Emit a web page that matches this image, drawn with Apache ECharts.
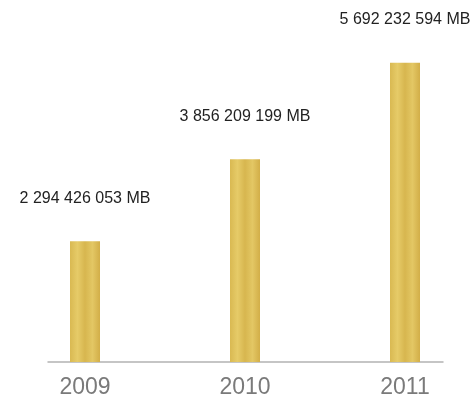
<!DOCTYPE html>
<html>
<head>
<meta charset="utf-8">
<script src="https://cdn.jsdelivr.net/npm/echarts@6/dist/echarts.min.js"></script>
<style>
html,body{margin:0;padding:0;background:#fff;}
#chart{width:473px;height:404px;}
</style>
</head>
<body>
<div id="chart"></div>
<script>
var categories = ['2009', '2010', '2011'];
var values = [2294426053, 3856209199, 5692232594];
var unit = 'MB';

function fmt(v) {
  return String(v).replace(/\B(?=(\d{3})+(?!\d))/g, ' ') + ' ' + unit;
}

var gold = new echarts.graphic.LinearGradient(0, 0, 1, 0, [
  { offset: 0, color: '#d9b952' },
  { offset: 0.25, color: '#e6cb68' },
  { offset: 0.5, color: '#d7b64f' },
  { offset: 0.75, color: '#e3c764' },
  { offset: 1, color: '#d2ae48' }
]);

var chart = echarts.init(document.getElementById('chart'));
chart.setOption({
  animation: false,
  grid: [
    { left: 85, right: 68, top: 46.5, bottom: 42 },
    { left: 48, right: 30, top: 46.5, bottom: 42 }
  ],
  xAxis: [
    {
      type: 'category', gridIndex: 0, data: categories, boundaryGap: false,
      axisLine: { show: false }, axisTick: { show: false },
      axisLabel: { color: '#7a7a7a', fontSize: 23, fontFamily: 'Liberation Sans, Arial, sans-serif', margin: 14 }
    },
    {
      type: 'value', gridIndex: 1, min: 0, max: 1,
      axisLine: { show: true, lineStyle: { color: '#b3b3b3', width: 1.5 } },
      axisTick: { show: false }, axisLabel: { show: false }, splitLine: { show: false }
    }
  ],
  yAxis: [
    { type: 'value', gridIndex: 0, min: 0, max: 6000000000, show: false, splitLine: { show: false } },
    { type: 'value', gridIndex: 1, min: 0, max: 1, show: false, splitLine: { show: false } }
  ],
  series: [{
    type: 'bar',
    xAxisIndex: 0, yAxisIndex: 0,
    data: values,
    barWidth: 30,
    itemStyle: { color: gold },
    label: {
      show: true, position: 'top', distance: 35,
      color: '#222', fontSize: 16, fontFamily: 'Liberation Sans, Arial, sans-serif',
      formatter: function (p) { return fmt(p.value); }
    }
  }]
});
</script>
</body>
</html>
